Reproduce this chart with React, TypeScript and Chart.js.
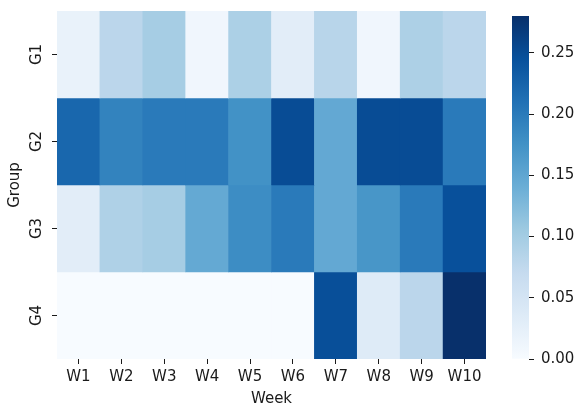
import { useEffect, useRef } from "react";
import { Chart, registerables } from "chart.js";

Chart.register(...registerables);

// Heatmap data: one row of weekly values per group
const weeks = ["W1", "W2", "W3", "W4", "W5", "W6", "W7", "W8", "W9", "W10"];
const groups = ["G1", "G2", "G3", "G4"];
const g1 = [0.02, 0.08, 0.098, 0.01, 0.093, 0.03, 0.082, 0.01, 0.092, 0.08];
const g2 = [0.221, 0.191, 0.2, 0.2, 0.175, 0.25, 0.147, 0.25, 0.25, 0.2];
const g3 = [0.03, 0.09, 0.098, 0.146, 0.18, 0.2, 0.147, 0.17, 0.2, 0.246];
const g4 = [0, 0, 0, 0, 0, 0, 0.247, 0.035, 0.08, 0.28];
const rows = [g1, g2, g3, g4];

// Colour scale range and colour-bar ticks
const colorMin = 0;
const colorMax = 0.28;
const colorTicks = [0, 0.05, 0.1, 0.15, 0.2, 0.25];

// Matplotlib "Blues" colormap anchor colours
const blues: [number, number, number][] = [
  [247, 251, 255],
  [222, 235, 247],
  [198, 219, 239],
  [158, 202, 225],
  [107, 174, 214],
  [66, 146, 198],
  [33, 113, 181],
  [8, 81, 156],
  [8, 48, 107],
];

function bluesAt(t: number): string {
  const c = Math.max(0, Math.min(1, t)) * (blues.length - 1);
  const i = Math.min(Math.floor(c), blues.length - 2);
  const f = c - i;
  const a = blues[i];
  const b = blues[i + 1];
  const mix = (k: number) => Math.round(a[k] + (b[k] - a[k]) * f);
  return `rgb(${mix(0)},${mix(1)},${mix(2)})`;
}

function colorFor(v: number): string {
  return bluesAt((v - colorMin) / (colorMax - colorMin));
}

const FONT = "'DejaVu Sans', sans-serif";
const TEXT = "#1a1a1a";
const FONT_SIZE = 15;

export default function App() {
  const heatRef = useRef<HTMLCanvasElement>(null);
  const barRef = useRef<HTMLCanvasElement>(null);

  useEffect(() => {
    if (!heatRef.current || !barRef.current) return;

    // Rotated group labels on the left axis
    const groupLabels = {
      id: "groupLabels",
      afterDraw(chart: any) {
        const ctx = chart.ctx;
        const ys = chart.scales.y;
        ctx.save();
        ctx.fillStyle = TEXT;
        ctx.font = `${FONT_SIZE}px ${FONT}`;
        ctx.textAlign = "center";
        ctx.textBaseline = "middle";
        groups.forEach((g, i) => {
          const y = ys.getPixelForValue(i + 0.5);
          ctx.save();
          ctx.translate(37, y);
          ctx.rotate(-Math.PI / 2);
          ctx.fillText(g, 0, 0);
          ctx.restore();
        });
        ctx.restore();
      },
    };

    const heat = new Chart(heatRef.current, {
      type: "bar",
      data: {
        labels: weeks,
        datasets: rows.map((row, i) => ({
          label: groups[i],
          data: row.map(() => [i, i + 1] as [number, number]),
          backgroundColor: row.map((v) => colorFor(v)),
          borderWidth: 0,
          barPercentage: 1,
          categoryPercentage: 1,
          grouped: false,
        })),
      },
      options: {
        responsive: false,
        animation: false,
        events: [],
        layout: { padding: { top: 11, right: 14, left: 0, bottom: 0 } },
        plugins: { legend: { display: false }, tooltip: { enabled: false } },
        scales: {
          x: {
            type: "category",
            border: { display: false },
            grid: { drawOnChartArea: false, offset: false, tickLength: 5, tickColor: TEXT },
            ticks: {
              color: TEXT,
              font: { family: FONT, size: FONT_SIZE },
              padding: 4,
              maxRotation: 0,
            },
            title: {
              display: true,
              text: "Week",
              color: TEXT,
              font: { family: FONT, size: FONT_SIZE },
              padding: { top: 0, bottom: 0 },
            },
            afterFit(scale: any) {
              scale.height = 49;
            },
          },
          y: {
            type: "linear",
            min: 0,
            max: groups.length,
            reverse: true,
            border: { display: false },
            grid: { drawOnChartArea: false, tickLength: 5, tickColor: TEXT },
            ticks: { display: false },
            afterBuildTicks(scale: any) {
              scale.ticks = groups.map((_, i) => ({ value: i + 0.5 }));
            },
            title: {
              display: true,
              text: "Group",
              color: TEXT,
              font: { family: FONT, size: FONT_SIZE },
              padding: { top: 6, bottom: 0 },
            },
            afterFit(scale: any) {
              scale.width = 57;
            },
          },
        },
      },
      plugins: [groupLabels],
    } as any);

    const colorbar = new Chart(barRef.current, {
      type: "bar",
      data: {
        labels: [""],
        datasets: [
          {
            data: [[colorMin, colorMax] as [number, number]],
            backgroundColor: (c: any) => {
              const area = c.chart.chartArea;
              if (!area) return colorFor(colorMin);
              const grad = c.chart.ctx.createLinearGradient(0, area.bottom, 0, area.top);
              blues.forEach((rgb, k) => {
                grad.addColorStop(k / (blues.length - 1), `rgb(${rgb[0]},${rgb[1]},${rgb[2]})`);
              });
              return grad;
            },
            borderWidth: 0,
            barPercentage: 1,
            categoryPercentage: 1,
          },
        ],
      },
      options: {
        responsive: false,
        animation: false,
        events: [],
        layout: { padding: { top: 11, right: 0, left: 12, bottom: 49 } },
        plugins: { legend: { display: false }, tooltip: { enabled: false } },
        scales: {
          x: { display: false },
          y: {
            type: "linear",
            position: "right",
            min: colorMin,
            max: colorMax,
            border: { display: false },
            grid: { drawOnChartArea: false, tickLength: 5, tickColor: TEXT },
            afterBuildTicks(scale: any) {
              scale.ticks = colorTicks.map((v) => ({ value: v }));
            },
            ticks: {
              color: TEXT,
              font: { family: FONT, size: FONT_SIZE },
              padding: 7,
              callback: (v: any) => Number(v).toFixed(2),
            },
            afterFit(scale: any) {
              scale.width = 49;
            },
          },
        },
      },
    } as any);

    return () => {
      heat.destroy();
      colorbar.destroy();
    };
  }, []);

  return (
    <div style={{ position: "fixed", left: 0, top: 0, width: 578, height: 408, background: "#fff" }}>
      <canvas ref={heatRef} width={500} height={408} style={{ position: "absolute", left: 0, top: 0 }} />
      <canvas ref={barRef} width={78} height={408} style={{ position: "absolute", left: 500, top: 0 }} />
    </div>
  );
}
